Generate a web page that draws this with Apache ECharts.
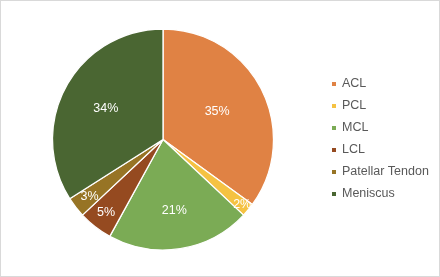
<!DOCTYPE html>
<html><head><meta charset="utf-8">
<script src="https://cdn.jsdelivr.net/npm/echarts@6/dist/echarts.min.js"></script>
<style>html,body{margin:0;padding:0;background:#fff}#c{width:440px;height:277px;box-sizing:border-box;border:1px solid #d9d9d9}</style>
</head><body><div id="c"></div>
<script>
const categories = ["ACL", "PCL", "MCL", "LCL", "Patellar Tendon", "Meniscus"];
const values = [35, 2, 21, 5, 3, 34];
const colors = ["#E08244", "#F5C242", "#7BAB55", "#954A20", "#977425", "#4A6632"];
const labelRadius = [0.55, 0.93, 0.65, 0.84, 0.84, 0.59];

const chart = echarts.init(document.getElementById('c'), null, {renderer: 'canvas'});
const cx = 162, cy = 138.5, R = 110.5;
chart.setOption({
  animation: false,
  legend: {
    orient: 'vertical', left: 329, top: 76, padding: 0,
    itemWidth: 6, itemHeight: 6, itemGap: 8, icon: 'rect',
    textStyle: {color: '#595959', fontSize: 12.5, lineHeight: 14, fontFamily: 'Liberation Sans'},
    data: categories
  },
  series: [{
    type: 'pie', center: [cx, cy], radius: [0, R], startAngle: 90, clockwise: true,
    itemStyle: {borderColor: '#fff', borderWidth: 1.3},
    label: {show: true, position: 'inside', formatter: '{d}%', color: '#fff', fontSize: 12.5, fontFamily: 'Liberation Sans'},
    labelLine: {show: false},
    labelLayout: function (p) {
      const lx = p.labelRect.x + p.labelRect.width / 2, ly = p.labelRect.y + p.labelRect.height / 2;
      const dx = lx - cx, dy = ly - cy, d = Math.sqrt(dx*dx + dy*dy);
      const k = labelRadius[p.dataIndex] * R / d;
      return {x: cx + dx * k, y: cy + dy * k, align: 'center', verticalAlign: 'middle'};
    },
    data: categories.map((n, i) => ({name: n, value: values[i], itemStyle: {color: colors[i]}}))
  }]
});
</script></body></html>
